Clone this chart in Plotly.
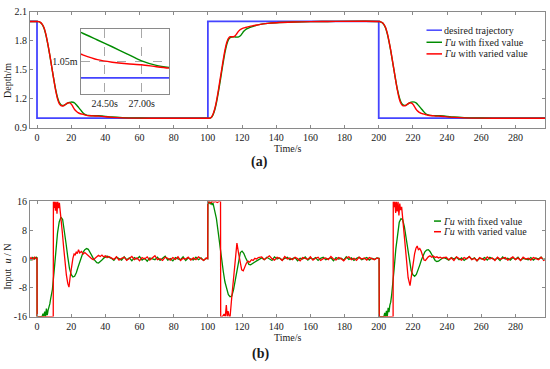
import plotly.graph_objects as go

W, H = 550, 369

# ------------------------------------------------------------------ data
time_ticks = [0, 20, 40, 60, 80, 100, 120, 140, 160, 180, 200, 220, 240, 260, 280]
depth_ticks = [0.9, 1.2, 1.5, 1.8, 2.1]
depth_ticktext = ["0.9", "1.2", "1.5", "1.8", "2.1"]
input_ticks = [-16, -8, 0, 8, 16]
input_ticktext = ["-16", "-8", "0", "8", "16"]

desired_t = [-4.5, 0, 0, 100, 100, 200, 200, 300]
desired_d = [2.0, 2.0, 1.0, 1.0, 2.0, 2.0, 1.0, 1.0]

depth_fixed = [
    (-4.5, 2.0), (0, 2.0), (1, 1.998), (2, 1.99), (3, 1.97), (4, 1.935), (5, 1.875),
    (6, 1.795), (7, 1.7), (8, 1.595), (9, 1.49), (10, 1.385), (11, 1.29), (12, 1.215),
    (13, 1.165), (14, 1.14), (15, 1.132), (16, 1.134), (17, 1.145), (18, 1.157),
    (19, 1.164), (20, 1.167), (21, 1.165), (22, 1.157), (23, 1.139), (24, 1.118),
    (25, 1.097), (26, 1.075), (27, 1.053), (28, 1.039), (29, 1.032), (30, 1.028),
    (32, 1.026), (34, 1.026), (36, 1.025), (38, 1.023), (40, 1.019), (44, 1.012),
    (50, 1.006), (60, 1.002), (70, 1.0), (100.5, 1.0),
    (101, 1.0), (102, 1.008), (103, 1.035), (104, 1.085), (105, 1.16), (106, 1.255),
    (107, 1.36), (108, 1.47), (109, 1.58), (110, 1.68), (111, 1.76), (112, 1.81),
    (113, 1.832), (114, 1.84), (115, 1.842), (116, 1.84), (117, 1.838), (118, 1.84),
    (119, 1.852), (120, 1.875), (121, 1.898), (122, 1.914), (123, 1.925), (124, 1.933),
    (126, 1.946), (128, 1.958), (130, 1.967), (135, 1.98), (140, 1.987), (150, 1.994),
    (160, 1.998), (170, 2.0), (200.5, 2.0),
    (201, 1.997), (202, 1.988), (203, 1.968), (204, 1.932), (205, 1.872), (206, 1.792),
    (207, 1.698), (208, 1.594), (209, 1.49), (210, 1.386), (211, 1.292), (212, 1.218),
    (213, 1.168), (214, 1.142), (215, 1.133), (216, 1.135), (217, 1.146), (218, 1.158),
    (219, 1.166), (220, 1.169), (221, 1.166), (222, 1.156), (223, 1.138), (224, 1.117),
    (225, 1.096), (226, 1.075), (227, 1.055), (228, 1.041), (229, 1.033), (230, 1.029),
    (232, 1.027), (234, 1.026), (236, 1.025), (238, 1.023), (240, 1.019), (244, 1.012),
    (250, 1.006), (260, 1.002), (270, 1.0), (300, 1.0),
]

depth_varied = [
    (-4.5, 2.0), (0, 2.0), (1, 1.998), (2, 1.99), (3, 1.972), (4, 1.94), (5, 1.882),
    (6, 1.8), (7, 1.705), (8, 1.6), (9, 1.49), (10, 1.38), (11, 1.28), (12, 1.2),
    (13, 1.15), (14, 1.13), (15, 1.127), (16, 1.133), (17, 1.147), (18, 1.157),
    (19, 1.158), (20, 1.147), (21, 1.12), (22, 1.09), (23, 1.072), (24, 1.057),
    (25, 1.049), (26, 1.044), (27, 1.041), (28, 1.035), (29, 1.03), (30, 1.027),
    (32, 1.025), (34, 1.023), (36, 1.022), (38, 1.019), (40, 1.015), (44, 1.009),
    (50, 1.004), (60, 1.001), (70, 1.0), (100.5, 1.0),
    (101, 1.0), (102, 1.01), (103, 1.042), (104, 1.095), (105, 1.175), (106, 1.275),
    (107, 1.385), (108, 1.495), (109, 1.605), (110, 1.705), (111, 1.78), (112, 1.825),
    (113, 1.843), (114, 1.842), (115, 1.842), (116, 1.853), (117, 1.876), (118, 1.9),
    (119, 1.917), (120, 1.927), (122, 1.938), (124, 1.947), (126, 1.955), (128, 1.961),
    (130, 1.968), (135, 1.98), (140, 1.987), (150, 1.994), (160, 1.998), (170, 2.0),
    (200.5, 2.0),
    (201, 1.997), (202, 1.989), (203, 1.97), (204, 1.937), (205, 1.879), (206, 1.798),
    (207, 1.703), (208, 1.598), (209, 1.49), (210, 1.381), (211, 1.282), (212, 1.202),
    (213, 1.152), (214, 1.131), (215, 1.128), (216, 1.134), (217, 1.148), (218, 1.157),
    (219, 1.157), (220, 1.145), (221, 1.118), (222, 1.089), (223, 1.071), (224, 1.058),
    (225, 1.05), (226, 1.045), (227, 1.04), (228, 1.035), (229, 1.031), (230, 1.028),
    (232, 1.025), (234, 1.022), (236, 1.021), (238, 1.018), (240, 1.014), (244, 1.009),
    (250, 1.004), (260, 1.001), (270, 1.0), (300, 1.0),
]

# flat (steady-state) sample times for the control input
flat_t1 = [43.5, 45, 46.5, 48, 49.5, 51, 52.5, 54, 55.5, 57, 58.5, 60, 61.5, 63, 64.5,
           66, 67.5, 69, 70.5, 72, 73.5, 75, 76.5, 78, 79.5, 81, 82.5, 84, 85.5, 87,
           88.5, 90, 91.5, 93, 94.5, 96, 97.5, 99]
flat_t2 = [131.5, 133, 134.5, 136, 137.5, 139, 140.5, 142, 143.5, 145, 146.5, 148,
           149.5, 151, 152.5, 154, 155.5, 157, 158.5, 160, 161.5, 163, 164.5, 166,
           167.5, 169, 170.5, 172, 173.5, 175, 176.5, 178, 179.5, 181, 182.5, 184,
           185.5, 187, 188.5, 190, 191.5, 193, 194.5, 196, 197.5, 199]
flat_t3 = [239.5, 241, 242.5, 244, 245.5, 247, 248.5, 250, 251.5, 253, 254.5, 256,
           257.5, 259, 260.5, 262, 263.5, 265, 266.5, 268, 269.5, 271, 272.5, 274,
           275.5, 277, 278.5, 280, 281.5, 283, 284.5, 286, 287.5, 289, 290.5, 292,
           293.5, 295, 296.5, 298]

u_fixed_flat1 = [0.2, -0.4, 0.5, 0.1, -0.3, 0.6, -0.2, 0.3, -0.5, 0.4, 0.0, 0.7, -0.3,
                 0.2, -0.6, 0.3, 0.1, -0.2, 0.5, -0.4, 0.2, 0.8, -0.3, 0.1, -0.5, 0.4,
                 0.0, -0.2, 0.6, -0.4, 0.3, 0.1, -0.3, 0.5, -0.2, 0.3, -0.4, 0.2]
u_fixed_flat2 = [0.3, -0.2, 0.5, 0.1, -0.4, 0.6, 0.0, 0.3, -0.3, 0.2, 0.5, -0.2, 0.1,
                 0.4, -0.5, 0.2, 0.0, 0.6, -0.3, 0.3, -0.1, 0.4, -0.4, 0.2, 0.5, -0.2,
                 0.1, 0.3, -0.5, 0.4, 0.0, 0.2, -0.3, 0.6, -0.1, 0.3, -0.4, 0.2, 0.5,
                 -0.2, 0.1, 0.4, -0.3, 0.2, -0.1, 0.3]
u_fixed_flat3 = [0.1, -0.3, 0.4, 0.0, 0.5, -0.2, 0.3, -0.4, 0.2, 0.6, -0.1, 0.3, -0.5,
                 0.2, 0.0, 0.4, -0.3, 0.5, 0.1, -0.2, 0.3, -0.4, 0.6, 0.0, 0.2, -0.3,
                 0.4, -0.1, 0.5, -0.4, 0.2, 0.1, -0.2, 0.4, -0.3, 0.3, 0.0, 0.5, -0.2, 0.2]

u_varied_flat1 = [0.4, -0.1, 0.6, -0.3, 0.2, 0.5, -0.4, 0.1, 0.7, -0.2, 0.3, -0.5, 0.4,
                  0.0, 0.6, -0.3, 0.2, 0.9, -0.2, 0.1, -0.4, 0.5, 0.2, -0.3, 0.4, -0.1,
                  0.6, -0.4, 0.2, 0.0, 0.5, -0.3, 0.3, -0.2, 0.6, 0.1, -0.4, 0.3]
u_varied_flat2 = [0.6, -0.2, 0.4, 0.9, 0.1, -0.3, 0.5, 0.2, -0.4, 0.7, 0.0, 0.3, -0.2,
                  0.5, 0.1, -0.5, 0.4, 0.2, -0.1, 0.6, -0.3, 0.2, 0.5, -0.4, 0.1, 0.3,
                  -0.2, 0.7, 0.0, -0.3, 0.4, 0.1, -0.5, 0.3, 0.6, -0.2, 0.2, -0.4, 0.5,
                  0.0, 0.3, -0.3, 0.4, 0.1, -0.2, 0.3]
u_varied_flat3 = [0.5, -0.2, 0.3, -0.4, 0.6, 0.1, -0.3, 0.4, 0.0, 0.7, -0.2, 0.2, -0.5,
                  0.4, 0.1, -0.3, 0.6, 0.0, 0.3, -0.4, 0.5, -0.1, 0.2, 0.4, -0.3, 0.1,
                  0.6, -0.2, 0.3, -0.4, 0.5, 0.0, 0.2, -0.3, 0.4, 0.1, -0.2, 0.5, -0.4, 0.2]

u_fixed_trans1 = [
    (-4.5, 0.2), (-3.5, -0.3), (-2.5, 0.4), (-1.5, 0.0), (-0.5, 0.5), (0, 0.3),
    (0.05, -16), (1, -16), (2, -16), (3, -16), (3.5, -15.2), (4, -16), (4.5, -14.6),
    (5, -16), (5.5, -13.8), (6, -15.6), (6.5, -14.2), (7, -13.5), (7.5, -12.5), (8, -11),
    (8.5, -10), (9, -8.5), (10, -3.5), (11, 2.5), (12, 7.2), (13, 10.3), (14, 11.6),
    (15, 11.0), (16, 8.2), (17, 4.3), (18, 0.6), (19, -2.6), (20, -4.3), (21, -5.0),
    (22, -4.8), (23, -3.8), (24, -2.3), (25, -0.8), (26, 0.8), (27, 1.9), (28, 2.6),
    (29, 2.9), (30, 2.7), (31, 2.0), (32, 1.0), (33, 0.1), (34, -0.6), (35, -1.0),
    (36, -1.1), (37, -0.8), (38, -0.3), (39, 0.2), (40, 0.6), (41, 0.8), (42, 0.5),
]
u_fixed_trans2 = [
    (99.9, 0.1), (100, 16), (100.5, 15.4), (101, 16), (101.5, 15.2), (102, 15.9),
    (102.5, 15.0), (103, 15.5), (103.5, 14.6), (104, 13.6), (105, 11.2), (106, 7.6),
    (107, 3.6), (108, 0.2), (109, -3.4), (110, -6.4), (111, -8.6), (112, -9.9),
    (113, -10.5), (114, -10.3), (115, -8.6), (116, -5.8), (117, -2.6), (118, 0.2),
    (119, 1.8), (120, 2.2), (121, 1.6), (122, 0.4), (123, -0.8), (124, -1.5),
    (125, -1.6), (126, -1.3), (127, -0.9), (128, -0.5), (129, -0.3), (130, -0.1),
]
u_fixed_trans3 = [
    (200.2, 0.2), (200.3, -16), (201, -16), (202, -16), (203, -16), (203.5, -15.0),
    (204, -16), (204.5, -14.4), (205, -16), (205.5, -13.6), (206, -14.8), (206.5, -12.8),
    (207, -12), (207.5, -10.2), (208, -8), (209, -2.8), (210, 2.8), (211, 7.4),
    (212, 10.2), (213, 11.2), (214, 10.9), (215, 9.0), (216, 5.6), (217, 2.0),
    (218, -1.2), (219, -3.3), (220, -4.4), (221, -4.8), (222, -4.3), (223, -3.2),
    (224, -1.7), (225, -0.2), (226, 1.1), (227, 2.0), (228, 2.5), (229, 2.6), (230, 2.1),
    (231, 1.2), (232, 0.3), (233, -0.4), (234, -0.7), (235, -0.6), (236, -0.2),
    (237, 0.2), (238, 0.4),
]

u_varied_trans1 = [
    (-4.5, -0.1), (-3.5, 0.4), (-2.5, -0.2), (-1.5, 0.5), (-0.5, 0.1), (0, 0.2),
    (0.05, -16), (9.5, -16), (9.6, 16), (10, 14.2), (10.3, 16), (10.8, 13.4), (11.2, 16),
    (11.7, 12.6), (12.1, 16), (12.6, 14.1), (13.1, 15.6), (13.6, 12.4), (14, 11.5),
    (14.8, 7.5), (15.6, 3.2), (16.4, -1.0), (17.2, -4.5), (18, -6.8), (18.7, -7.8),
    (19.5, -4.6), (20.3, -1.6), (21, 0.2), (21.7, 1.4), (22.4, 1.2), (23, 2.0),
    (23.6, 1.5), (24.3, 2.6), (25, 1.7), (26, 2.1), (27, 1.4), (28, 1.8), (29, 1.3),
    (30, 0.9), (31, 0.5), (32, 0.1), (33, -0.2), (34, 0.1), (35, 0.6), (36, 1.0),
    (37, 0.7), (38, 1.1), (39, 0.6), (40, 0.9), (41, 0.4), (42, 0.7),
]
u_varied_trans2 = [
    (99.95, 0.1), (100, 16), (100.5, 16), (101.5, 15.6), (102.5, 16), (103.5, 15.8),
    (104.5, 16), (105.5, 15.7), (106.5, 16), (107.4, 16), (107.5, -16), (108.5, -16),
    (109.5, -15.3), (110.2, -16), (110.8, -12.8), (111.3, -16), (111.8, -14.5),
    (112.5, -16), (113, -16), (114, -10.5), (115, -5.2), (116, 0.0), (117, 4.4),
    (118, 1.5), (119, -1.2), (119.8, -3.0), (120.7, -3.3), (121.5, -2.2), (122.5, -1.2),
    (123.5, -0.6), (124.5, -0.9), (125.5, -0.2), (126.5, -0.4), (127.5, 0.2),
    (128.5, 0.0), (129.5, 0.4), (130.5, 0.6),
]
u_varied_trans3 = [
    (200.2, 0.1), (200.3, -16), (208.4, -16), (208.5, 16), (209, 14.4), (209.4, 16),
    (209.9, 12.8), (210.3, 16), (210.8, 13.2), (211.3, 16), (211.8, 12.1), (212.3, 15.4),
    (212.8, 13.6), (213.4, 14.5), (214, 11.0), (214.8, 6.5), (215.6, 2.2), (216.4, -2.0),
    (217.2, -5.2), (218.3, -7.4), (219.2, -4.2), (220.1, -1.0), (221, 1.5), (221.8, 3.0),
    (222.5, 3.6), (223.2, 2.6), (224, 2.9), (224.8, 2.2), (225.6, 0.6), (226.5, -0.3),
    (227.3, -0.4), (228.2, 0.3), (229, 0.6), (230, 0.9), (231, 0.5), (232, 0.8),
    (233, 0.4), (234, 0.6), (235, 0.3), (236, 0.5), (237, 0.2), (238, 0.4),
]

legend_top = ["desired trajectory", "<i>Γu</i> with fixed value", "<i>Γu</i> with varied value"]
legend_bottom = ["<i>Γu</i> with fixed value", "<i>Γu</i> with varied value"]

# ------------------------------------------------------------------ helpers
def xs(pts):
    return [p[0] for p in pts]

def ys(pts):
    return [p[1] for p in pts]

def px_x(px):
    return px / W

def px_y(py):
    return 1 - py / H

u_fixed_t = xs(u_fixed_trans1) + flat_t1 + xs(u_fixed_trans2) + flat_t2 + xs(u_fixed_trans3) + flat_t3
u_fixed_v = ys(u_fixed_trans1) + u_fixed_flat1 + ys(u_fixed_trans2) + u_fixed_flat2 + ys(u_fixed_trans3) + u_fixed_flat3
u_varied_t = xs(u_varied_trans1) + flat_t1 + xs(u_varied_trans2) + flat_t2 + xs(u_varied_trans3) + flat_t3
u_varied_v = ys(u_varied_trans1) + u_varied_flat1 + ys(u_varied_trans2) + u_varied_flat2 + ys(u_varied_trans3) + u_varied_flat3

BLUE = "#4444ff"
GREEN = "#008c00"
RED = "#ff0000"
AXC = "#8a8a8a"
TXT = "#1a1a1a"
FONT = "Liberation Serif"

fig = go.Figure()

# top panel
fig.add_trace(go.Scatter(x=desired_t, y=desired_d, mode="lines", line=dict(color=BLUE, width=1.8),
                         xaxis="x", yaxis="y", name="desired trajectory", showlegend=False))
fig.add_trace(go.Scatter(x=xs(depth_fixed), y=ys(depth_fixed), mode="lines",
                         line=dict(color=GREEN, width=1.4, shape="spline", smoothing=0.8),
                         xaxis="x", yaxis="y", name="Γu with fixed value", showlegend=False))
fig.add_trace(go.Scatter(x=xs(depth_varied), y=ys(depth_varied), mode="lines",
                         line=dict(color=RED, width=1.4, shape="spline", smoothing=0.8),
                         xaxis="x", yaxis="y", name="Γu with varied value", showlegend=False))

# inset
fig.add_trace(go.Scatter(x=desired_t, y=desired_d, mode="lines", line=dict(color=BLUE, width=1.8),
                         xaxis="x3", yaxis="y3", showlegend=False))
fig.add_trace(go.Scatter(x=xs(depth_fixed), y=ys(depth_fixed), mode="lines",
                         line=dict(color=GREEN, width=1.4, shape="spline", smoothing=0.8),
                         xaxis="x3", yaxis="y3", showlegend=False))
fig.add_trace(go.Scatter(x=xs(depth_varied), y=ys(depth_varied), mode="lines",
                         line=dict(color=RED, width=1.4, shape="spline", smoothing=0.8),
                         xaxis="x3", yaxis="y3", showlegend=False))

# bottom panel
fig.add_trace(go.Scatter(x=u_fixed_t, y=u_fixed_v, mode="lines", line=dict(color=GREEN, width=1.3),
                         xaxis="x2", yaxis="y2", name="Γu with fixed value", showlegend=False))
fig.add_trace(go.Scatter(x=u_varied_t, y=u_varied_v, mode="lines", line=dict(color=RED, width=1.3),
                         xaxis="x2", yaxis="y2", name="Γu with varied value", showlegend=False))

axis_common = dict(showline=True, linecolor=AXC, linewidth=1, mirror="allticks",
                   ticks="inside", ticklen=3, tickcolor=AXC, showgrid=False, zeroline=False,
                   tickfont=dict(family=FONT, size=10, color=TXT))

x_dom = [px_x(30), px_x(545)]
x_rng = [-4.1, 297.3]

fig.update_layout(
    width=W, height=H, margin=dict(l=0, r=0, t=0, b=0),
    paper_bgcolor="white", plot_bgcolor="white", showlegend=False,
    font=dict(family=FONT, size=10, color=TXT),
    xaxis=dict(axis_common, domain=x_dom, range=x_rng, tickvals=time_ticks, anchor="y"),
    yaxis=dict(axis_common, domain=[px_y(126), px_y(6)], range=[0.9, 2.1],
               tickvals=depth_ticks, ticktext=depth_ticktext, anchor="x"),
    xaxis2=dict(axis_common, domain=x_dom, range=x_rng, tickvals=time_ticks, anchor="y2"),
    yaxis2=dict(axis_common, domain=[px_y(321), px_y(202)], range=[-16, 16],
                tickvals=input_ticks, ticktext=input_ticktext, anchor="x2"),
    xaxis3=dict(domain=[px_x(80.5), px_x(169)], range=[22.85, 28.86], anchor="y3",
                showline=True, mirror=True, linecolor=AXC, linewidth=1, ticks="",
                zeroline=False, showgrid=True, gridcolor="#a8a8a8", griddash="dash",
                tickvals=[24.5, 27], ticktext=["24.50s", "27.00s"],
                tickfont=dict(family=FONT, size=10, color=TXT)),
    yaxis3=dict(domain=[px_y(91), px_y(24)], range=[0.95, 1.1515], anchor="x3",
                showline=True, mirror=True, linecolor=AXC, linewidth=1, ticks="",
                zeroline=False, showgrid=True, gridcolor="#a8a8a8", griddash="dash",
                tickvals=[1.05], ticktext=["1.05m"],
                tickfont=dict(family=FONT, size=10, color=TXT)),
)

annotations = [
    dict(text="Time/s", x=px_x(287.5), y=px_y(141), xanchor="center", yanchor="top",
         borderpad=0),
    dict(text="Time/s", x=px_x(287.5), y=px_y(336), xanchor="center", yanchor="top",
         borderpad=0),
    dict(text="Depth/m", x=px_x(7.5), y=px_y(77), textangle=-90, xanchor="center", yanchor="middle"),
    dict(text="Input  <i>u</i> / N", x=px_x(7.5), y=px_y(270), textangle=-90,
         xanchor="center", yanchor="middle"),
    dict(text="<b>(a)</b>", x=px_x(259), y=px_y(161.5), xanchor="center", yanchor="middle",
         font=dict(family=FONT, size=14, color=TXT)),
    dict(text="<b>(b)</b>", x=px_x(260.5), y=px_y(360), xanchor="center", yanchor="middle",
         font=dict(family=FONT, size=14, color=TXT)),
]

shapes = []
# top legend
top_rows = [25, 37.5, 49.5]
top_cols = [BLUE, GREEN, RED]
for label, row, col in zip(legend_top, top_rows, top_cols):
    shapes.append(dict(type="line", xref="paper", yref="paper", x0=px_x(426.5), x1=px_x(442),
                       y0=px_y(row), y1=px_y(row), line=dict(color=col, width=1.5)))
    annotations.append(dict(text=label, x=px_x(442), y=px_y(row), xanchor="left", yanchor="middle"))
# bottom legend
bot_rows = [222.3, 233.3]
bot_cols = [GREEN, RED]
for label, row, col in zip(legend_bottom, bot_rows, bot_cols):
    shapes.append(dict(type="line", xref="paper", yref="paper", x0=px_x(434), x1=px_x(441),
                       y0=px_y(row), y1=px_y(row), line=dict(color=col, width=1.5)))
    annotations.append(dict(text=label, x=px_x(441), y=px_y(row), xanchor="left", yanchor="middle"))

for a in annotations:
    a.setdefault("xref", "paper")
    a.setdefault("yref", "paper")
    a.setdefault("showarrow", False)
    a.setdefault("font", dict(family=FONT, size=10, color=TXT))

fig.update_layout(annotations=annotations, shapes=shapes)

# remove the browser's default 8px page margin so the figure sits at the window origin
fig.write_html("out.html",
               config={"displayModeBar": False, "staticPlot": True},
               post_script="document.body.style.margin='0';document.body.style.overflow='hidden';")
